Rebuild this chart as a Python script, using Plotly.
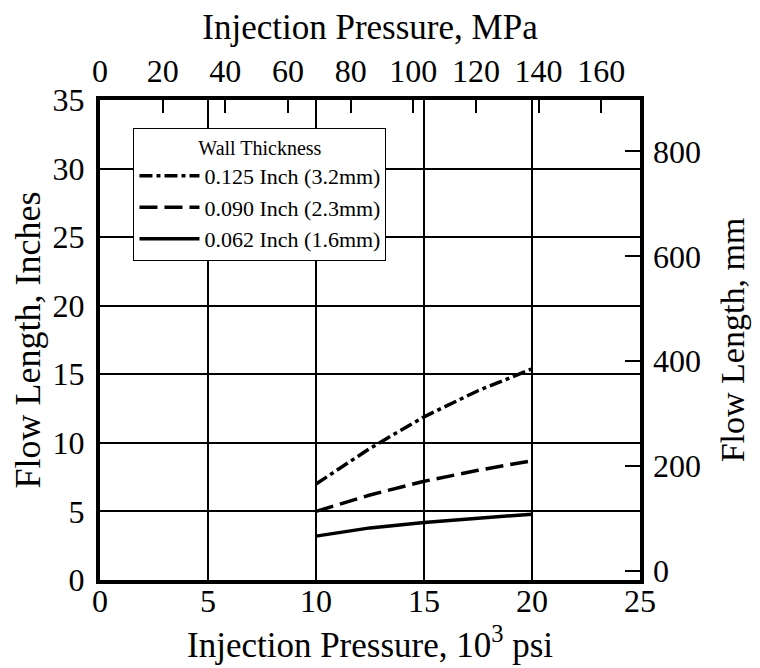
import plotly.graph_objects as go

# Data
pressure_ksi = [10, 12.5, 15, 17.5, 20]
flow_0125 = [7.0, 9.6, 11.9, 13.8, 15.4]
flow_0090 = [5.0, 6.2, 7.2, 8.0, 8.7]
flow_0062 = [3.2, 3.8, 4.2, 4.5, 4.8]

series_names = ["0.125 Inch (3.2mm)", "0.090 Inch (2.3mm)", "0.062 Inch (1.6mm)"]
x_ticks = [0, 5, 10, 15, 20, 25]
y_ticks = [0, 5, 10, 15, 20, 25, 30, 35]
mpa_ticks = [0, 20, 40, 60, 80, 100, 120, 140, 160]
mm_ticks = [0, 200, 400, 600, 800]

FONT = "Liberation Serif"
KSI_TO_MPA = 6.894757
TICK_SIZE = 32
TITLE_SIZE = 35

fig = go.Figure()
fig.add_trace(go.Scatter(x=pressure_ksi, y=flow_0125, mode="lines", name=series_names[0],
                         line=dict(color="black", width=3.5, dash="13px,4px,4px,4px")))
fig.add_trace(go.Scatter(x=pressure_ksi, y=flow_0090, mode="lines", name=series_names[1],
                         line=dict(color="black", width=3.5, dash="18px,7px")))
fig.add_trace(go.Scatter(x=pressure_ksi, y=flow_0062, mode="lines", name=series_names[2],
                         line=dict(color="black", width=3.5)))
# Secondary (MPa / mm) axes need a trace to be drawn; this one has no points.
fig.add_trace(go.Scatter(x=[None], y=[None], xaxis="x2", yaxis="y2", mode="lines",
                         showlegend=False, hoverinfo="skip"))

axis_common = dict(showgrid=True, gridcolor="black", gridwidth=1.5, showline=True,
                   linecolor="black", linewidth=4, mirror=True, ticks="", zeroline=False,
                   automargin=False,
                   tickfont=dict(family=FONT, size=TICK_SIZE, color="black"))

fig.update_layout(
    width=760, height=668,
    margin=dict(l=92, r=128, t=92, b=96),
    paper_bgcolor="white", plot_bgcolor="white",
    font=dict(family=FONT, color="black"),
    showlegend=True,
    legend=dict(x=0.062, y=0.942, xanchor="left", yanchor="top",
                bgcolor="white", bordercolor="black", borderwidth=1,
                font=dict(family=FONT, size=22, color="black"),
                title=dict(text="Wall Thickness", side="top center",
                           font=dict(family=FONT, size=20, color="black")),
                itemwidth=60, tracegroupgap=0),
    xaxis=dict(range=[0, 25], tickvals=x_ticks, ticklabelstandoff=-10, **axis_common),
    yaxis=dict(range=[0, 35], tickvals=y_ticks, ticklabelstandoff=5,
               title=dict(text="Flow Length, Inches",
                          font=dict(family=FONT, size=36, color="black"), standoff=6),
               **axis_common),
    xaxis2=dict(overlaying="x", side="top", range=[0, 25 * KSI_TO_MPA], tickvals=mpa_ticks,
                ticks="inside", ticklen=13, tickwidth=1.5, tickcolor="black",
                showgrid=False, showline=False, zeroline=False, automargin=False,
                ticklabelstandoff=11,
                tickfont=dict(family=FONT, size=TICK_SIZE, color="black"),
                title=dict(text="Injection Pressure, MPa",
                           font=dict(family=FONT, size=TITLE_SIZE, color="black"), standoff=10)),
    yaxis2=dict(overlaying="y", side="right", range=[-17, 898], tickvals=mm_ticks,
                ticks="inside", ticklen=15, tickwidth=1.5, tickcolor="black",
                showgrid=False, showline=False, zeroline=False, automargin=False,
                ticklabelstandoff=12,
                tickfont=dict(family=FONT, size=TICK_SIZE, color="black"),
                title=dict(text="Flow Length, mm",
                           font=dict(family=FONT, size=34, color="black"), standoff=20)),
    annotations=[dict(text="Injection Pressure, 10<sup>3</sup> psi", xref="paper", yref="paper",
                      x=0.5, y=-0.131, xanchor="center", yanchor="middle", showarrow=False,
                      font=dict(family=FONT, size=TITLE_SIZE, color="black"))],
)

fig.write_html("out.html")
